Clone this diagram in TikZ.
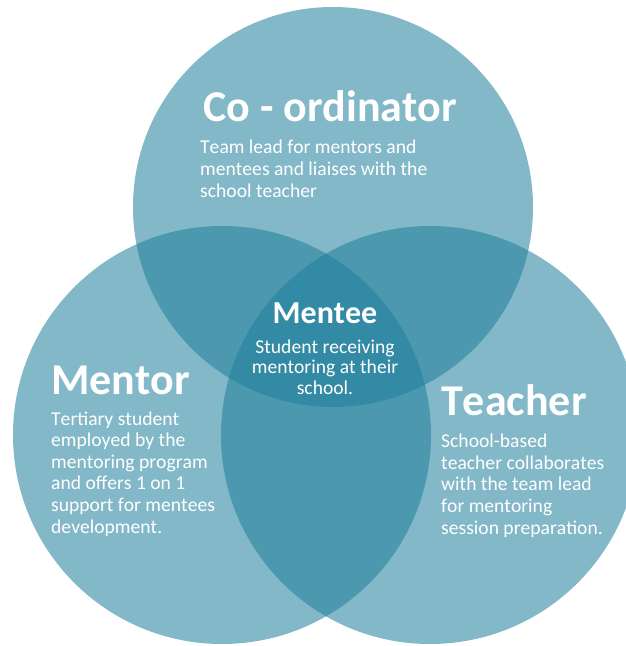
\documentclass[tikz,border=0pt]{standalone}
\usepackage{fontspec}
\setmainfont[Kerning=Off]{Carlito}
\definecolor{vennblue}{RGB}{32,127,156}
\begin{document}
\begin{tikzpicture}[x=1pt,y=-1pt,
  venn/.style={fill=vennblue,fill opacity=0.556},
  heading/.style={text=white,font=\bfseries\fontsize{44}{50}\selectfont,inner sep=0pt,anchor=base west},
  body/.style={text=white,font=\fontsize{19.6}{21.6}\selectfont,inner sep=0pt,anchor=base west,align=left},
]
\useasboundingbox (0,0) rectangle (626,646);
% three overlapping role circles
\begin{scope}
  \clip (0,0) rectangle (626,646);
  \fill[venn] (333,207) circle[radius=200pt];
  \fill[venn] (222,435) circle[radius=209pt];
  \fill[venn] (430,435) circle[radius=209pt];
\end{scope}
% Co-ordinator (multi-line nodes sit on the baseline of their last line)
\node[heading] (coordTitle) at (203,121) {Co - ordinator};
\node[body] (coordText) at (200,197) {Team lead for mentors and\\mentees and liaises with the\\school teacher};
% Mentee (centre)
\node[heading,font=\bfseries\fontsize{32}{38}\selectfont,anchor=base] (menteeTitle) at (325,323) {Mentee};
\node[body,font=\fontsize{19.6}{20.5}\selectfont,align=center,anchor=base] (menteeText) at (325,394) {Student receiving\\mentoring at their\\school.};
% Mentor
\node[heading] (mentorTitle) at (51,394) {Mentor};
\node[body] (mentorText) at (51,533) {Tertiary student\\employed by the\\mentoring program\\and offers 1 on 1\\support for mentees\\development.};
% Teacher
\node[heading] (teacherTitle) at (441,415) {Teacher};
\node[body] (teacherText) at (441,534) {School-based\\teacher collaborates\\with the team lead\\for mentoring\\session preparation.};
\end{tikzpicture}
\end{document}
